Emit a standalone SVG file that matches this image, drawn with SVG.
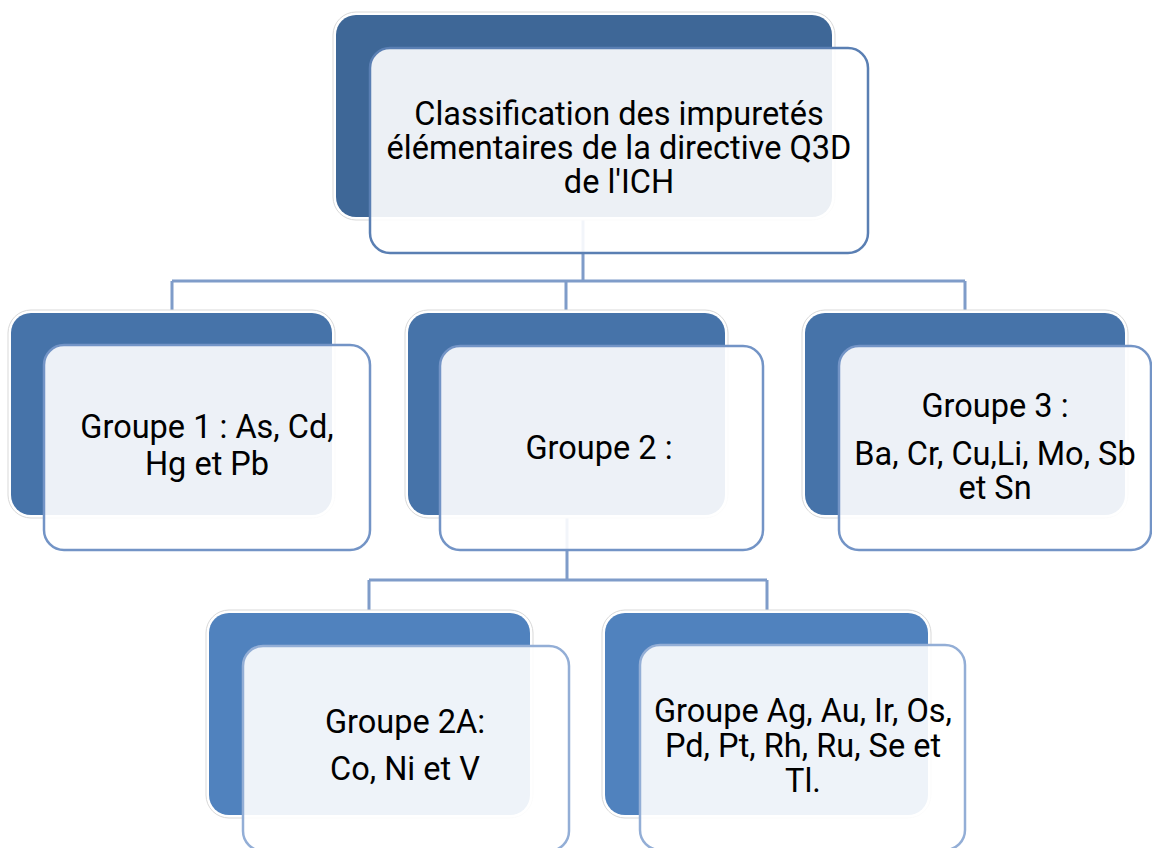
<svg xmlns="http://www.w3.org/2000/svg" width="1152" height="848" viewBox="0 0 1152 848">
<style>
.halo{fill:#fff;stroke:#d9d9d9;stroke-width:1}
.d0{fill:#3e6797}
.d1{fill:#4673a9}
.d2{fill:#5082be}
.lt{fill:#fff;fill-opacity:0.9;stroke-width:2.5}
.l0{stroke:#5a7fb3}
.l1{stroke:#7394c6}
.l2{stroke:#93aed6}
.t{font-family:Roboto,"Liberation Sans",sans-serif;font-size:32.5px;fill:#000;text-anchor:middle}
.c{stroke:#7f9cc9;stroke-width:3;fill:none}
</style>
<rect width="1152" height="848" fill="#fff"/>
<g id="connectors">
<path class="c" d="M583,217 V281 M172,281 H965 M172,281 V312 M566,281 V312 M965,281 V312"/>
<path class="c" d="M567,515 V580 M369,580 H767 M369,580 V612 M767,580 V612"/>
</g>
<g id="root">
<rect class="halo" x="333" y="12" width="502" height="208" rx="23"/>
<rect class="d0" x="336" y="15" width="496" height="202" rx="20"/>
<rect class="lt l0" x="370" y="48" width="498" height="205" rx="20"/>
<text class="t" x="619" y="125">Classification des impuretés</text>
<text class="t" x="619" y="159">élémentaires de la directive Q3D</text>
<text class="t" x="619" y="193">de l'ICH</text>
</g>
<g id="g1">
<rect class="halo" x="8" y="310" width="327" height="208" rx="23"/>
<rect class="d1" x="11" y="313" width="321" height="202" rx="20"/>
<rect class="lt l1" x="44" y="345" width="326" height="205" rx="20"/>
<text class="t" x="207" y="438">Groupe 1 : As, Cd,</text>
<text class="t" x="207" y="475">Hg et Pb</text>
</g>
<g id="g2">
<rect class="halo" x="405" y="310" width="323" height="208" rx="23"/>
<rect class="d1" x="408" y="313" width="317" height="202" rx="20"/>
<rect class="lt l1" x="440" y="346" width="323" height="204" rx="20"/>
<text class="t" x="599" y="459">Groupe 2 :</text>
</g>
<g id="g3">
<rect class="halo" x="802" y="310" width="326" height="208" rx="23"/>
<rect class="d1" x="805" y="313" width="320" height="202" rx="20"/>
<rect class="lt l1" x="839" y="346" width="312" height="204" rx="20"/>
<text class="t" x="995" y="417">Groupe 3 :</text>
<text class="t" x="995" y="465">Ba, Cr, Cu,Li, Mo, Sb</text>
<text class="t" x="995" y="499">et Sn</text>
</g>
<g id="g2a">
<rect class="halo" x="206" y="610" width="327" height="208" rx="23"/>
<rect class="d2" x="209" y="613" width="321" height="202" rx="20"/>
<rect class="lt l2" x="243" y="646" width="326" height="205" rx="20"/>
<text class="t" x="405" y="733">Groupe 2A:</text>
<text class="t" x="405" y="780">Co, Ni et V</text>
</g>
<g id="g2b">
<rect class="halo" x="602" y="610" width="329" height="208" rx="23"/>
<rect class="d2" x="605" y="613" width="323" height="202" rx="20"/>
<rect class="lt l2" x="640" y="645" width="325" height="205" rx="20"/>
<text class="t" x="803" y="722">Groupe Ag, Au, Ir, Os,</text>
<text class="t" x="803" y="757">Pd, Pt, Rh, Ru, Se et</text>
<text class="t" x="803" y="792">Tl.</text>
</g>
</svg>
